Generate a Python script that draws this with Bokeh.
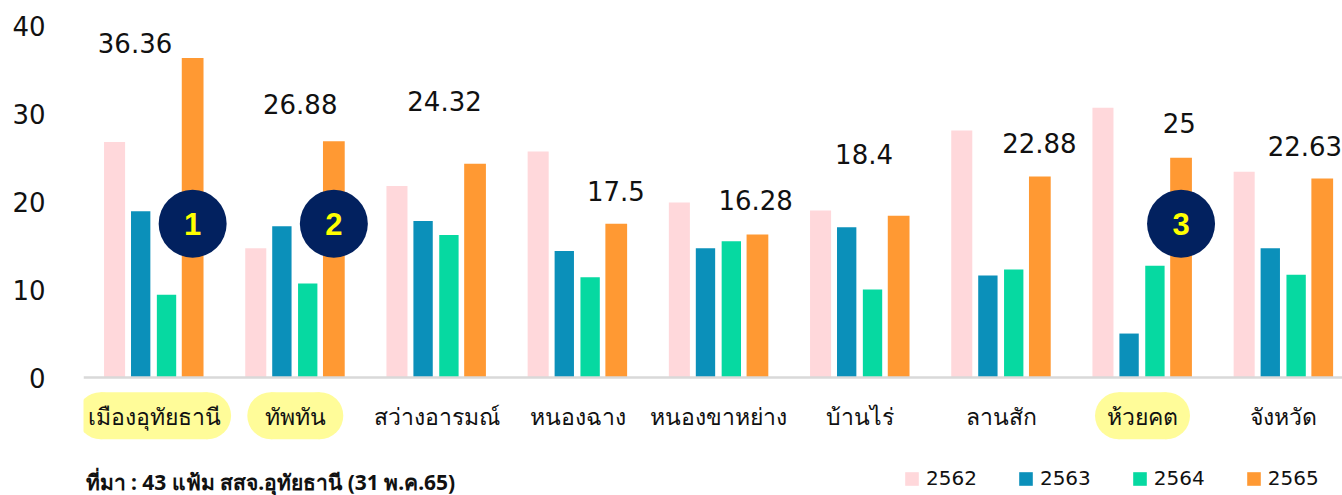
from bokeh.plotting import figure
from bokeh.models import (Range1d, FixedTicker, Span, Legend, LegendItem, ColumnDataSource)
from bokeh.core.properties import value
from bokeh.embed import file_html
from bokeh.resources import INLINE

# ---------------- data ----------------
districts = ["เมืองอุทัยธานี", "ทัพทัน", "สว่างอารมณ์", "หนองฉาง", "หนองขาหย่าง",
             "บ้านไร่", "ลานสัก", "ห้วยคต", "จังหวัด"]
years = ["2562", "2563", "2564", "2565"]
v2562 = [26.8, 14.7, 21.8, 25.7, 19.9, 19.0, 28.1, 30.7, 23.4]
v2563 = [18.9, 17.2, 17.8, 14.4, 14.7, 17.1, 11.6, 5.0, 14.7]
v2564 = [9.4, 10.7, 16.2, 11.4, 15.5, 10.0, 12.3, 12.7, 11.7]
v2565 = [36.36, 26.88, 24.32, 17.5, 16.28, 18.4, 22.88, 25.0, 22.63]
v2565_labels = ["36.36", "26.88", "24.32", "17.5", "16.28", "18.4", "22.88", "25", "22.63"]
highlighted = [True, True, False, False, False, False, False, True, False]
marker_numbers = {0: "1", 1: "2", 7: "3"}
y_ticks = [0, 10, 20, 30, 40]
source_note = "ที่มา : 43 แฟ้ม สสจ.อุทัยธานี (31 พ.ค.65)"

# ---------------- layout / style ----------------
colors = ["#FFD8DB", "#0B90BA", "#06D9A1", "#FF9933"]
dodges = [-0.28, -0.095, 0.088, 0.273]
widths = [0.149, 0.137, 0.137, 0.154]
label_dx = [-0.135, 0.035, 0.057, 0.27, 0.26, 0.028, 0.27, 0.26, 0.15]
label_dy = [1.75, 4.18, 7.08, 3.77, 3.86, 7.08, 3.85, 3.9, 3.76]
pill_w = {0: 154, 1: 96, 7: 95}
pill_h = 47

W, H = 1342, 495
left_border = 83
px_per_unit = 8.79
zero_px = 377
x0 = -0.5
cat_px = 141.2
x1 = x0 + (W - left_border) / cat_px
y1 = zero_px / px_per_unit
y0 = (zero_px - H) / px_per_unit

p = figure(width=W, height=H, output_backend="svg", toolbar_location=None,
           x_range=Range1d(x0, x1), y_range=Range1d(y0, y1),
           min_border_left=left_border, min_border_right=0,
           min_border_top=0, min_border_bottom=0)
p.outline_line_color = None
p.xgrid.visible = False
p.ygrid.visible = False
p.xaxis.visible = False
p.background_fill_color = "white"
p.border_fill_color = "white"

yax = p.yaxis[0]
yax.ticker = FixedTicker(ticks=y_ticks)
yax.axis_line_color = None
yax.major_tick_line_color = None
yax.minor_tick_line_color = None
yax.major_label_standoff = 32
yax.major_label_text_font = "DejaVu Sans"
yax.major_label_text_font_size = "26px"
yax.major_label_text_color = "#111111"

# baseline
p.add_layout(Span(location=0, dimension="width", line_color="#D9D9D9", line_width=2.5))

xs = list(range(len(districts)))
series = [v2562, v2563, v2564, v2565]
renderers = []
for k, vals in enumerate(series):
    src = ColumnDataSource(dict(x=[i + dodges[k] for i in xs], top=vals))
    r = p.vbar(x="x", top="top", bottom=0, width=widths[k], source=src,
               fill_color=colors[k], line_color=None)
    renderers.append(r)

# value labels for 2565
lsrc = ColumnDataSource(dict(x=[i + dx for i, dx in zip(xs, label_dx)],
                             y=[v + dy for v, dy in zip(v2565, label_dy)],
                             t=v2565_labels))
p.text(x="x", y="y", text="t", source=lsrc, text_align="center", text_baseline="middle",
       text_font=value("DejaVu Sans"), text_font_size="26px", text_color="#111111")

# numbered circles on 2565 bars
cidx = sorted(marker_numbers)
csrc = ColumnDataSource(dict(x=[i + dodges[3] for i in cidx], y=[17.5] * len(cidx),
                             t=[marker_numbers[i] for i in cidx]))
p.scatter(x="x", y="y", source=csrc, marker="circle", size=68, fill_color="#02215F",
          line_color=None)
p.text(x="x", y="y", text="t", source=csrc, text_align="center", text_baseline="middle",
       text_font=value("Liberation Sans"), text_font_style="bold", text_font_size="31px",
       text_color="#FFFF00")

# highlight pills behind category labels
label_y = -4.35
for i, hl in enumerate(highlighted):
    if not hl:
        continue
    w = pill_w[i]
    half = (w - pill_h) / 2 / cat_px
    p.rect(x=i, y=label_y, width=w - pill_h, width_units="screen", height=pill_h,
           height_units="screen", fill_color="#FFFC99", line_color=None)
    p.scatter(x=[i - half, i + half], y=[label_y, label_y], marker="circle", size=pill_h,
              fill_color="#FFFC99", line_color=None)

# category labels
csrc2 = ColumnDataSource(dict(x=xs, y=[label_y] * len(xs), t=districts))
p.text(x="x", y="y", text="t", source=csrc2, text_align="center", text_baseline="middle",
       text_font=value("Noto Sans"), text_font_size="23px", text_color="#111111")

# source note
p.text(x=[x0 + 2 / cat_px], y=[-11.9], text=[source_note], text_align="left",
       text_baseline="middle", text_font=value("Noto Sans"), text_font_style="bold",
       text_font_size="21px", text_color="#111111")

legend = Legend(items=[LegendItem(label=years[k], renderers=[renderers[k]]) for k in range(4)],
                orientation="horizontal", location=(820, 5))
legend.glyph_width = 17
legend.glyph_height = 17
legend.label_standoff = 6
legend.spacing = 40
legend.padding = 0
legend.margin = 0
legend.border_line_color = None
legend.background_fill_alpha = 0
legend.label_text_font = "DejaVu Sans"
legend.label_text_font_size = "20px"
legend.label_text_color = "#111111"
p.add_layout(legend)

open("out.html", "w").write(file_html(p, INLINE))
